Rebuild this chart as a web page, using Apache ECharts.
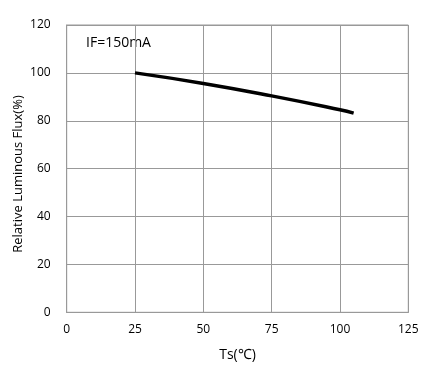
<!DOCTYPE html>
<html><head><meta charset="utf-8">
<script src="https://cdn.jsdelivr.net/npm/echarts@6/dist/echarts.min.js"></script>
<style>html,body{margin:0;padding:0;background:#fff;}#c{width:442px;height:372px;}</style>
</head><body><div id="c"></div>
<script>
var temps = [25, 50, 75, 100, 105];
var flux = [100, 95.6, 90.4, 84.6, 83.2];
var xTicks = [0, 25, 50, 75, 100, 125];
var yTicks = [0, 20, 40, 60, 80, 100, 120];
var FONT = "Open Sans";
var chart = echarts.init(document.getElementById('c'));
chart.setOption({
  animation: false,
  backgroundColor: '#fff',
  grid: {left: 66.7, right: 33.7, top: 25, bottom: 59.7, show: true, borderColor: '#999', borderWidth: 1},
  graphic: [
    {type: 'text', left: 86, top: 36, style: {text: 'IF=150mA', font: '14px "' + FONT + '"', fill: '#000'}},
    {type: 'text', x: 18, y: 174, rotation: Math.PI / 2,
     style: {text: 'Relative Luminous Flux(%)', font: '13px "' + FONT + '"', fill: '#000', align: 'center', verticalAlign: 'middle'}}
  ],
  xAxis: {
    type: 'value', min: xTicks[0], max: xTicks[xTicks.length-1], interval: 25,
    name: 'Ts(℃)', nameLocation: 'middle', nameGap: 36,
    nameTextStyle: {fontFamily: FONT, fontSize: 14, color: '#000'},
    axisLine: {lineStyle: {color: '#999'}}, axisTick: {show: false},
    axisLabel: {fontFamily: FONT, fontSize: 12, color: '#000', margin: 11},
    splitLine: {show: true, lineStyle: {color: '#999', width: 1}}
  },
  yAxis: {
    type: 'value', min: yTicks[0], max: yTicks[yTicks.length-1], interval: 20,
    axisLine: {show: true, lineStyle: {color: '#999'}}, axisTick: {show: false},
    axisLabel: {fontFamily: FONT, fontSize: 12, color: '#000', margin: 16},
    splitLine: {show: true, lineStyle: {color: '#999', width: 1}}
  },
  series: [{
    type: 'line', smooth: true, symbol: 'none',
    data: temps.map(function(t, i){ return [t, flux[i]]; }),
    lineStyle: {color: '#000', width: 3.5}
  }]
});
</script></body></html>
